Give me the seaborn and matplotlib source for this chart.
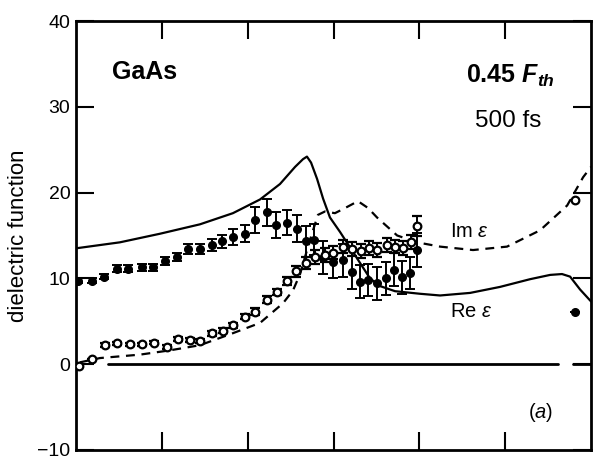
import matplotlib
matplotlib.use("Agg")
import matplotlib.pyplot as plt
import seaborn as sns
import numpy as np

# ---------------- data ----------------
# theory curves (photon energy eV)
re_th_x = [1.50, 1.756, 1.989, 2.222, 2.414, 2.572, 2.688, 2.776, 2.822, 2.845, 2.869, 2.904,
           2.939, 2.979, 3.038, 3.096, 3.154, 3.212, 3.270, 3.358, 3.503, 3.620, 3.795, 3.969,
           4.144, 4.261, 4.330, 4.377, 4.435, 4.499]
re_th_y = [13.5, 14.2, 15.2, 16.3, 17.6, 19.2, 21.0, 23.0, 23.9, 24.2, 23.5, 21.6,
           19.3, 17.1, 15.4, 13.6, 11.8, 10.0, 9.1, 8.5, 8.2, 8.0, 8.3, 9.0,
           9.9, 10.4, 10.5, 10.2, 8.7, 7.3]

im_th_x = [1.523, 1.640, 1.873, 2.047, 2.222, 2.414, 2.572, 2.706, 2.764, 2.805, 2.863, 2.909,
           2.950, 3.008, 3.067, 3.142, 3.201, 3.253, 3.370, 3.486, 3.620, 3.812, 4.010, 4.202,
           4.360, 4.453, 4.499]
im_th_y = [0.2, 0.7, 1.1, 1.6, 2.2, 3.6, 4.8, 7.1, 8.6, 10.5, 14.5, 17.4,
           17.8, 17.6, 18.2, 19.0, 18.2, 17.1, 15.0, 14.2, 13.7, 13.3, 13.7, 15.6,
           18.5, 21.8, 23.0]

# measured Re eps (filled circles)
re_x = [1.512, 1.593, 1.663, 1.739, 1.803, 1.884, 1.948, 2.018, 2.088, 2.152, 2.222, 2.292,
        2.350, 2.414, 2.484, 2.542, 2.612, 2.664, 2.729, 2.787, 2.840, 2.886, 2.939, 2.997,
        3.055, 3.107, 3.154, 3.201, 3.253, 3.305, 3.352, 3.399, 3.445, 3.486, 4.406]
re_y = [9.7, 9.7, 10.2, 11.1, 11.1, 11.3, 11.3, 12.0, 12.5, 13.4, 13.4, 13.9,
        14.3, 14.8, 15.2, 16.8, 17.7, 16.2, 16.5, 15.8, 14.3, 14.5, 12.4, 11.9,
        12.1, 10.7, 9.6, 9.8, 9.4, 10.0, 11.0, 10.1, 10.6, 13.3, 6.1]
re_err = [0.3, 0.3, 0.3, 0.4, 0.4, 0.4, 0.4, 0.5, 0.5, 0.6, 0.6, 0.7,
          0.8, 0.9, 1.0, 1.5, 1.6, 1.5, 1.5, 1.6, 1.8, 1.8, 1.9, 1.9,
          1.9, 1.9, 1.9, 1.9, 1.9, 1.9, 1.9, 1.9, 1.9, 2.0, 0.0]

# measured Im eps (open circles)
im_x = [1.517, 1.593, 1.669, 1.739, 1.815, 1.884, 1.954, 2.030, 2.094, 2.164, 2.222, 2.292,
        2.356, 2.414, 2.484, 2.542, 2.612, 2.671, 2.729, 2.781, 2.840, 2.892, 2.950, 2.997,
        3.055, 3.107, 3.160, 3.206, 3.253, 3.311, 3.358, 3.404, 3.451, 3.486, 4.406]
im_y = [-0.2, 0.6, 2.2, 2.4, 2.3, 2.3, 2.5, 2.0, 2.9, 2.8, 2.7, 3.6,
        3.9, 4.5, 5.5, 6.1, 7.5, 8.4, 9.7, 10.8, 11.8, 12.5, 12.7, 13.0,
        13.7, 13.4, 13.2, 13.5, 13.3, 13.9, 13.7, 13.5, 14.2, 16.1, 19.1]
im_err = [0.0, 0.0, 0.2, 0.2, 0.2, 0.2, 0.2, 0.2, 0.2, 0.2, 0.2, 0.3,
          0.3, 0.3, 0.3, 0.4, 0.4, 0.4, 0.5, 0.6, 0.7, 0.8, 0.8, 0.8,
          0.8, 0.8, 0.8, 0.8, 0.8, 0.8, 0.8, 0.8, 0.8, 1.2, 0.0]

zero_seg1_x = [1.686, 4.307]
zero_seg2_x = [4.395, 4.50]

x_ticks = [2.0, 2.5, 3.0, 3.5, 4.0]
y_ticks = [-10, 0, 10, 20, 30, 40]
y_ticklabels = ['\u221210', '0', '10', '20', '30', '40']

# ---------------- style ----------------
sns.set_style("ticks")
plt.rcParams['font.family'] = ['Liberation Sans', 'DejaVu Sans']
plt.rcParams['text.color'] = 'black'
plt.rcParams['axes.labelcolor'] = 'black'
plt.rcParams['xtick.color'] = 'black'
plt.rcParams['ytick.color'] = 'black'
plt.rcParams['axes.edgecolor'] = 'black'
plt.rcParams['mathtext.fontset'] = 'custom'
plt.rcParams['mathtext.rm'] = 'Liberation Sans'
plt.rcParams['mathtext.it'] = 'Liberation Sans:italic'
plt.rcParams['mathtext.bf'] = 'Liberation Sans:bold:italic'

fig = plt.figure(figsize=(5.93, 4.70), dpi=100)
ax = fig.add_axes([0.128, 0.043, 0.869, 0.912])

# theory lines
sns.lineplot(x=re_th_x, y=re_th_y, ax=ax, color='black', lw=1.6, estimator=None, sort=False)
sns.lineplot(x=im_th_x, y=im_th_y, ax=ax, color='black', lw=1.6, estimator=None, sort=False,
             linestyle=(0, (4, 3)))
# zero line
sns.lineplot(x=zero_seg1_x, y=[0, 0], ax=ax, color='black', lw=2.0, estimator=None)
sns.lineplot(x=zero_seg2_x, y=[0, 0], ax=ax, color='black', lw=2.0, estimator=None)

# data points
ax.errorbar(re_x, re_y, yerr=re_err, fmt='o', color='black', ms=5.5, mfc='black', mec='black',
            elinewidth=1.4, capsize=3.5, capthick=1.4, zorder=4)
ax.errorbar(im_x, im_y, yerr=im_err, fmt='o', color='black', ms=5.5, mfc='white', mec='black',
            mew=1.6, elinewidth=1.4, capsize=3.5, capthick=1.4, zorder=5)

ax.set_xlim(1.5, 4.5)
ax.set_ylim(-10, 40)
ax.set_xticks(x_ticks)
ax.set_xticklabels([])
ax.set_yticks(y_ticks)
ax.set_yticklabels(y_ticklabels)
ax.tick_params(axis='both', which='major', direction='in', length=13, width=1.5,
               top=True, right=True, labelsize=14, pad=4, colors='black')
for s in ax.spines.values():
    s.set_linewidth(2.0)
    s.set_color('black')
ax.set_ylabel('dielectric function', fontsize=16, labelpad=6)

ax.text(1.71, 34.1, 'GaAs', fontsize=18, fontweight='bold', ha='left', va='center')
ax.text(4.29, 33.6, r'0.45 $\mathbf{F_{th}}$', fontsize=18, fontweight='bold', ha='right', va='center')
ax.text(4.016, 28.4, '500 fs', fontsize=17.5, ha='center', va='center')
ax.text(3.678, 15.5, r'Im $\varepsilon$', fontsize=14.5, ha='left', va='center')
ax.text(3.678, 6.1, r'Re $\varepsilon$', fontsize=14.5, ha='left', va='center')
ax.text(4.133, -5.6, r'($\mathit{a}$)', fontsize=14.5, ha='left', va='center')

fig.savefig('out.png', dpi=100)
